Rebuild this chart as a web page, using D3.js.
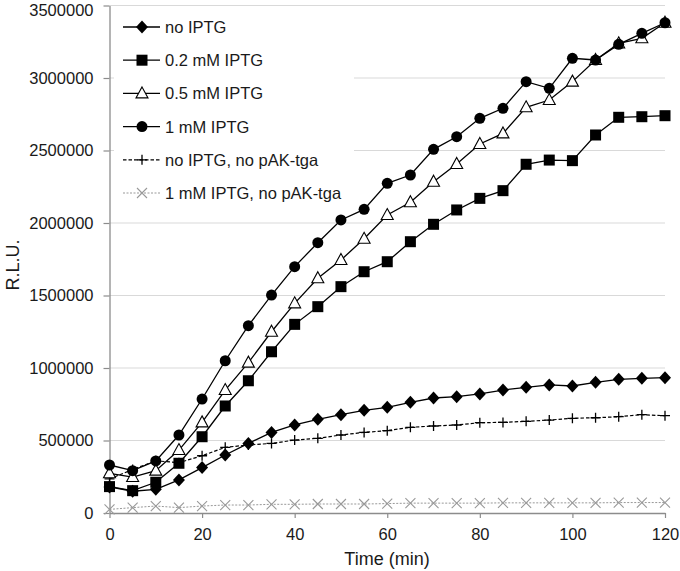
<!DOCTYPE html>
<html><head><meta charset="utf-8">
<script src="https://cdn.jsdelivr.net/npm/d3@7"></script>
<style>body{margin:0;background:#fff}svg{display:block}text{font-family:"Liberation Sans",Arial,sans-serif}</style>
</head><body><svg id="c" width="680" height="571"></svg>
<script>
const times = [0,5,10,15,20,25,30,35,40,45,50,55,60,65,70,75,80,85,90,95,100,105,110,115,120];
const noIPTG   = [180000,150000,163000,228000,313000,400000,480000,556000,607000,646000,678000,708000,729000,763000,793000,802000,821000,848000,867000,883000,876000,901000,922000,929000,933000];
const iptg02   = [182000,154000,212000,343000,526000,738000,912000,1112000,1301000,1423000,1561000,1664000,1733000,1871000,1991000,2090000,2170000,2223000,2405000,2434000,2430000,2607000,2729000,2733000,2740000];
const iptg05   = [274000,248000,292000,434000,625000,848000,1037000,1250000,1446000,1619000,1745000,1891000,2055000,2143000,2285000,2407000,2545000,2618000,2798000,2848000,2975000,3124000,3239000,3274000,3381000];
const iptg1    = [331000,292000,359000,538000,786000,1050000,1292000,1503000,1699000,1864000,2021000,2094000,2274000,2331000,2508000,2595000,2722000,2791000,2975000,2929000,3136000,3124000,3232000,3308000,3381000];
const noIPTGnoPAK = [235000,300000,360000,347000,395000,453000,469000,480000,503000,515000,538000,556000,568000,591000,600000,607000,623000,625000,632000,641000,653000,657000,664000,678000,671000];
const iptg1noPAK  = [25000,37000,48000,37000,48000,55000,55000,60000,60000,62000,62000,62000,65000,68000,68000,68000,68000,70000,70000,70000,70000,70000,72000,72000,72000];
const seriesNames = ["no IPTG","0.2 mM IPTG","0.5 mM IPTG","1 mM IPTG","no IPTG, no pAK-tga","1 mM IPTG, no pAK-tga"];
const yTicks = [0,500000,1000000,1500000,2000000,2500000,3000000,3500000];
const xTicks = [0,20,40,60,80,100,120];

const series = [
  {name:seriesNames[0], values:noIPTG, marker:"diamond", dash:null, color:"#000", width:1.3},
  {name:seriesNames[1], values:iptg02, marker:"square", dash:null, color:"#000", width:1.3},
  {name:seriesNames[2], values:iptg05, marker:"triangle", dash:null, color:"#000", width:1.3},
  {name:seriesNames[3], values:iptg1, marker:"circle", dash:null, color:"#000", width:1.3},
  {name:seriesNames[4], values:noIPTGnoPAK, marker:"plus", dash:"3.5,2", color:"#000", width:1.2},
  {name:seriesNames[5], values:iptg1noPAK, marker:"cross", dash:"2,1.5", color:"#999", width:1}
];

const svg = d3.select("#c");
const L=109.5, R=665, T=5.5, B=513;
const x = d3.scaleLinear().domain([0,120]).range([L,R]);
const y = d3.scaleLinear().domain([0,3500000]).range([B,T]);

// gridlines
svg.append("g").selectAll("line").data(yTicks.filter(d=>d>0)).join("line")
  .attr("x1",L).attr("x2",R).attr("y1",d=>y(d)).attr("y2",d=>y(d))
  .attr("stroke","#d9d9d9").attr("stroke-width",1.2);

// axes
const yAxis = d3.axisLeft(y).tickValues(yTicks).tickFormat(d3.format("d")).tickSizeInner(6).tickSizeOuter(0).tickPadding(10);
const gy = svg.append("g").attr("transform",`translate(${L},0)`).call(yAxis);
const xAxis = d3.axisBottom(x).tickValues(xTicks).tickFormat(d3.format("d")).tickSizeInner(5).tickSizeOuter(0).tickPadding(10);
const gx = svg.append("g").attr("transform",`translate(0,${B})`).call(xAxis);
[gy,gx].forEach(g=>{
  g.select(".domain").attr("stroke","#8c8c8c").attr("stroke-width",1.3);
  g.selectAll(".tick line").attr("stroke","#8c8c8c").attr("stroke-width",1.2);
  g.selectAll("text").attr("font-size","16.5px").attr("fill","#1a1a1a").attr("font-family","'Liberation Sans',Arial,sans-serif");
});
// keep the top label inside the canvas
gy.selectAll(".tick text").filter(d=>d===3500000).attr("dy","0.62em");

// markers
function drawMarker(g, type, cx, cy, color){
  const s = 5.5;
  if(type==="circle") g.append("circle").attr("cx",cx).attr("cy",cy).attr("r",s).attr("fill","#000");
  else if(type==="square") g.append("rect").attr("x",cx-s).attr("y",cy-s).attr("width",2*s).attr("height",2*s).attr("fill","#000");
  else if(type==="diamond") g.append("path").attr("d",`M${cx},${cy-6.5}L${cx+6},${cy}L${cx},${cy+6.5}L${cx-6},${cy}Z`).attr("fill","#000");
  else if(type==="triangle") g.append("path").attr("d",`M${cx},${cy-6.5}L${cx+6},${cy+4.5}L${cx-6},${cy+4.5}Z`).attr("fill","#fff").attr("stroke","#000").attr("stroke-width",1.1);
  else if(type==="plus") g.append("path").attr("d",`M${cx-5},${cy}H${cx+5}M${cx},${cy-5}V${cy+5}`).attr("stroke","#000").attr("stroke-width",1.3);
  else if(type==="cross") g.append("path").attr("d",`M${cx-5},${cy-5}L${cx+5},${cy+5}M${cx-5},${cy+5}L${cx+5},${cy-5}`).attr("stroke",color).attr("stroke-width",1.1);
}

const line = d3.line().x((d,i)=>x(times[i])).y(d=>y(d));
const order = [5,4,0,1,2,3];
order.forEach(k=>{
  const s = series[k];
  const g = svg.append("g");
  g.append("path").attr("d",line(s.values)).attr("fill","none").attr("stroke",s.color)
    .attr("stroke-width",s.width).attr("stroke-dasharray",s.dash);
  s.values.forEach((v,i)=>drawMarker(g,s.marker,x(times[i]),y(v),s.color));
});

// legend
const lg = svg.append("g");
lg.append("rect").attr("x",114).attr("y",9).attr("width",240).attr("height",200).attr("fill","#fff");
series.forEach((s,i)=>{
  const yy = 27 + i*33.2;
  lg.append("line").attr("x1",123).attr("x2",160).attr("y1",yy).attr("y2",yy)
    .attr("stroke",s.color).attr("stroke-width",s.width).attr("stroke-dasharray",s.dash);
  drawMarker(lg,s.marker,142,yy,s.color);
  lg.append("text").attr("x",165).attr("y",yy).attr("dy","0.36em").attr("font-size","16.5px").attr("fill","#1a1a1a").text(s.name);
});

// titles
svg.append("text").attr("transform","translate(19,265) rotate(-90)").attr("text-anchor","middle")
  .attr("font-size","18px").attr("fill","#1a1a1a").text("R.L.U.");
svg.append("text").attr("x",387).attr("y",565).attr("text-anchor","middle")
  .attr("font-size","18px").attr("fill","#1a1a1a").text("Time (min)");
</script></body></html>
